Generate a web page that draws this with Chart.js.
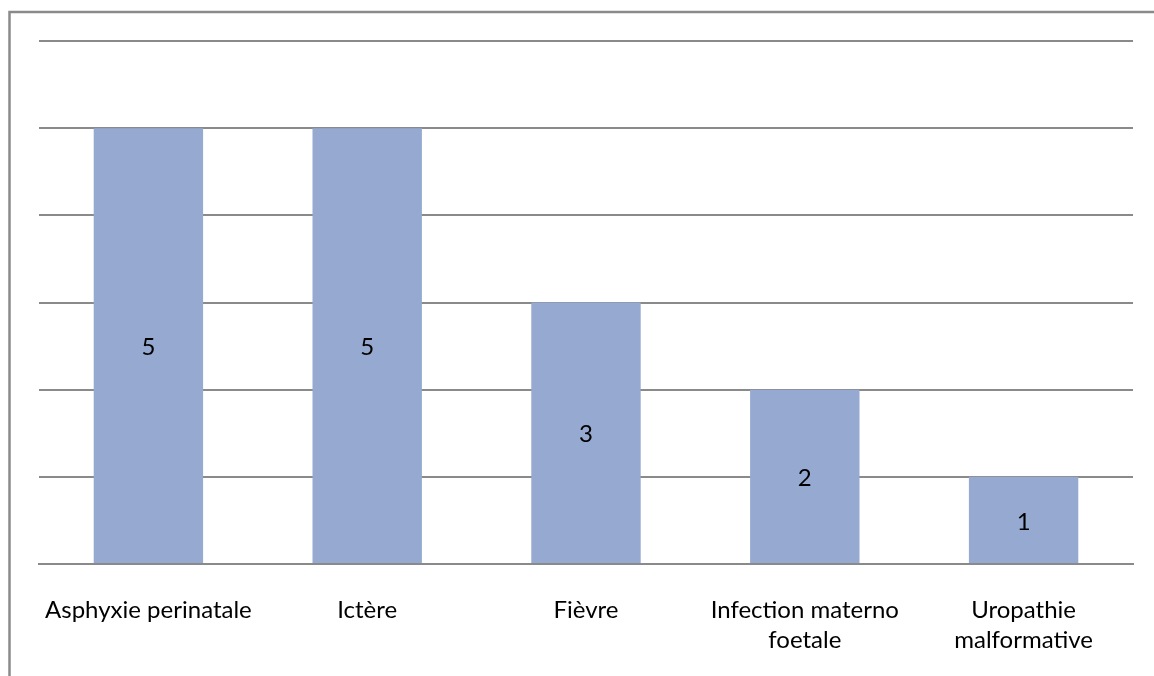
<!DOCTYPE html>
<html>
<head>
<meta charset="utf-8">
<script src="https://cdn.jsdelivr.net/npm/chart.js@4/dist/chart.umd.min.js"></script>
<style>
  html, body { margin: 0; padding: 0; background: #fff; }
  #wrap { position: relative; width: 1154px; height: 676px; }
</style>
</head>
<body>
<div id="wrap"><canvas id="diagChart" width="1154" height="676"></canvas></div>
<script>
var categories = [["Asphyxie perinatale"], ["Ictère"], ["Fièvre"], ["Infection materno", "foetale"], ["Uropathie", "malformative"]];
var cases = [5, 5, 3, 2, 1];
var yTicks = [0, 1, 2, 3, 4, 5, 6];

// outer frame (clipped by the picture at right and bottom)
var framePlugin = {
    id: 'frame',
    beforeDraw: function(chart) {
        var c = chart.ctx;
        c.save();
        c.strokeStyle = '#8a8a8a';
        c.lineWidth = 2.5;
        c.beginPath();
        c.moveTo(9.5, 700);
        c.lineTo(9.5, 12);
        c.lineTo(1200, 12);
        c.stroke();
        c.restore();
    }
};

// value labels in the middle of each bar
var valuePlugin = {
    id: 'values',
    afterDatasetsDraw: function(chart) {
        var c = chart.ctx;
        var meta = chart.getDatasetMeta(0);
        c.save();
        c.fillStyle = '#000';
        c.font = '24px Lato';
        c.textAlign = 'center';
        c.textBaseline = 'middle';
        meta.data.forEach(function(bar, i) {
            var y = (bar.y + bar.base) / 2 + 2;
            c.fillText(cases[i], bar.x, y);
        });
        c.restore();
    }
};

var ctx = document.getElementById('diagChart');

var myChart = new Chart(ctx, {
    type: 'bar',
    data: {
        labels: categories,
        datasets: [{
            data: cases,
            backgroundColor: '#95a9d1',
            barPercentage: 0.5,
            categoryPercentage: 1.0
        }]
    },
    options: {
        responsive: false,
        animation: false,
        layout: {
            padding: { left: 39, right: 21, top: 41, bottom: 0 }
        },
        plugins: {
            legend: { display: false },
            tooltip: { enabled: false }
        },
        scales: {
            x: {
                afterFit: function(scale) { scale.height = 112; },
                grid: { display: false, drawTicks: false },
                border: { display: true, color: '#8a8a8a', width: 2 },
                ticks: {
                    color: '#000',
                    padding: 31,
                    maxRotation: 0,
                    autoSkip: false,
                    font: { family: 'Lato', size: 24, lineHeight: 1.25 }
                }
            },
            y: {
                min: yTicks[0],
                max: yTicks[yTicks.length - 1],
                afterBuildTicks: function(scale) {
                    scale.ticks = yTicks.map(function(v) { return { value: v }; });
                },
                grid: { color: '#8a8a8a', lineWidth: 2, drawTicks: false },
                border: { display: false },
                ticks: { display: false }
            }
        }
    },
    plugins: [framePlugin, valuePlugin]
});
</script>
</body>
</html>
